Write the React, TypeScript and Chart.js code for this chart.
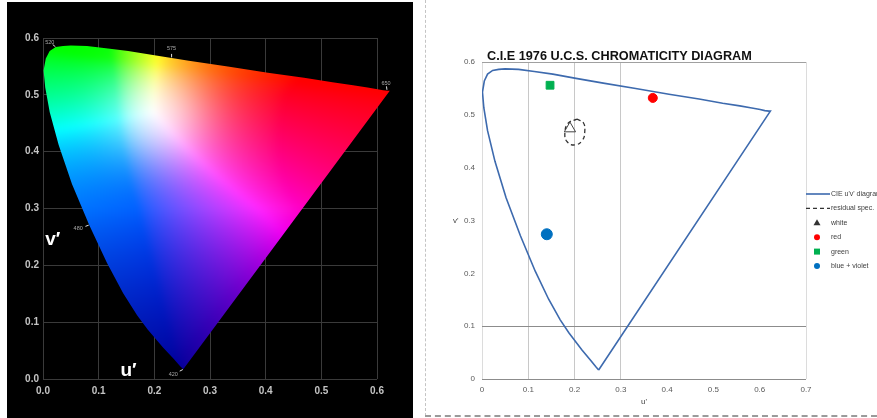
import React, { useEffect, useRef } from "react";
import { Chart, registerables } from "chart.js";

Chart.register(...registerables);

// CIE 1976 spectral locus (u', v'), 420 nm to 700 nm
const LOCUS_NM = [420, 430, 440, 450, 460, 465, 470, 475, 480, 485, 490, 495, 500, 505, 510, 515, 520, 525, 530, 540, 550, 560, 570, 580, 590, 600, 610, 620, 630, 640, 650, 660, 680, 700];
const LOCUS_U = [0.252, 0.246, 0.235, 0.216, 0.188, 0.169, 0.144, 0.115, 0.083, 0.052, 0.028, 0.012, 0.004, 0.001, 0.005, 0.012, 0.023, 0.036, 0.050, 0.079, 0.113, 0.153, 0.203, 0.262, 0.332, 0.404, 0.469, 0.520, 0.557, 0.583, 0.601, 0.611, 0.620, 0.623];
const LOCUS_V = [0.017, 0.023, 0.035, 0.055, 0.087, 0.112, 0.151, 0.204, 0.271, 0.343, 0.412, 0.470, 0.513, 0.543, 0.564, 0.577, 0.584, 0.586, 0.587, 0.586, 0.582, 0.577, 0.569, 0.560, 0.550, 0.539, 0.530, 0.522, 0.517, 0.513, 0.510, 0.508, 0.507, 0.507];

// wavelength call-outs on the coloured diagram
const MARK_NM = ["520", "575", "650", "480", "420"];
const MARK_U = [0.023, 0.231, 0.618, 0.083, 0.252];
const MARK_V = [0.584, 0.565, 0.508, 0.271, 0.017];

// white point used to lighten the centre of the colour field
const WHITE_POINT_U = 0.2;
const WHITE_POINT_V = 0.47;

// measured colour points
const WHITE_U = [0.19];
const WHITE_V = [0.474];
const RED_U = [0.369];
const RED_V = [0.532];
const GREEN_U = [0.147];
const GREEN_V = [0.556];
const BLUE_U = [0.14];
const BLUE_V = [0.274];

// tolerance contour round the white point
const CONTOUR_U = [0.205, 0.219, 0.222, 0.217, 0.201, 0.184, 0.179, 0.186, 0.205];
const CONTOUR_V = [0.492, 0.485, 0.468, 0.452, 0.443, 0.449, 0.465, 0.484, 0.492];

const SERIES_LABELS = ["CIE u'v' diagram", "residual spec.", "white", "red", "green", "blue + violet"];
const TITLE = "C.I.E 1976 U.C.S. CHROMATICITY DIAGRAM";

const pts = (us: number[], vs: number[]) => us.map((u, i) => ({ x: u, y: vs[i] }));
const closedLocus = () => [...pts(LOCUS_U, LOCUS_V), { x: LOCUS_U[0], y: LOCUS_V[0] }];

// XYZ -> RGB matrices: sRGB for the upper field, CIE RGB for the violet end
const M_SRGB = [
  [3.2406, -1.5372, -0.4986],
  [-0.9689, 1.8758, 0.0415],
  [0.0557, -0.204, 1.057],
];
const M_CIERGB = [
  [2.3646, -0.8965, -0.4681],
  [-0.5152, 1.4264, 0.0888],
  [0.0052, -0.0144, 1.0092],
];

function uvToRgb(u: number, v: number): [number, number, number] {
  const d = 6 * u - 16 * v + 12;
  const x = (9 * u) / d;
  const y = Math.max((4 * v) / d, 1e-4);
  const X = x / y;
  const Z = (1 - x - y) / y;
  const t = Math.min(1, Math.max(0, (v - 0.3) / 0.2));
  const lin = [0, 1, 2].map((k) => {
    const row = M_SRGB[k].map((s, j) => s * t + M_CIERGB[k][j] * (1 - t));
    return Math.max(0, row[0] * X + row[1] + row[2] * Z);
  });
  const m = Math.max(lin[0], lin[1], lin[2]) || 1;
  const shade = 0.58 + 0.42 * Math.min(1, v / 0.3);
  const dist = Math.hypot(u - WHITE_POINT_U, (v - WHITE_POINT_V) * 1.1);
  const wmix = 0.6 * Math.exp(-Math.pow(dist / 0.09, 2));
  const f = (c: number) => {
    const base = Math.pow(c / m, 1 / 1.4);
    return Math.round(255 * shade * (base * (1 - wmix) + wmix));
  };
  return [f(lin[0]), f(lin[1]), f(lin[2])];
}

const gamutPlugin = {
  id: "gamutFill",
  afterDatasetsDraw(chart: any) {
    const meta = chart.getDatasetMeta(0);
    const p = meta.data as any[];
    if (!p.length) return;
    const { ctx } = chart;
    const xs = chart.scales.x;
    const ys = chart.scales.y;
    const pad = 8;
    const minX = Math.floor(Math.min(...p.map((q) => q.x))) - pad;
    const maxX = Math.ceil(Math.max(...p.map((q) => q.x))) + pad;
    const minY = Math.floor(Math.min(...p.map((q) => q.y))) - pad;
    const maxY = Math.ceil(Math.max(...p.map((q) => q.y))) + pad;
    const w = maxX - minX + 1;
    const h = maxY - minY + 1;
    const field = document.createElement("canvas");
    field.width = w;
    field.height = h;
    const fctx = field.getContext("2d")!;
    const img = fctx.createImageData(w, h);
    for (let j = 0; j < h; j++) {
      const v = Math.max(ys.getValueForPixel(minY + j + 0.5), 0.004);
      for (let i = 0; i < w; i++) {
        const u = xs.getValueForPixel(minX + i + 0.5);
        const [r, g, b] = uvToRgb(u, v);
        const k = (j * w + i) * 4;
        img.data[k] = r;
        img.data[k + 1] = g;
        img.data[k + 2] = b;
        img.data[k + 3] = 255;
      }
    }
    fctx.putImageData(img, 0, 0);
    // soften the hue ridges of the colour field
    const smooth = document.createElement("canvas");
    smooth.width = w;
    smooth.height = h;
    const sctx = smooth.getContext("2d")!;
    sctx.filter = "blur(3px)";
    sctx.drawImage(field, 0, 0);
    ctx.save();
    ctx.beginPath();
    p.forEach((q, i) => (i ? ctx.lineTo(q.x, q.y) : ctx.moveTo(q.x, q.y)));
    ctx.closePath();
    ctx.clip();
    ctx.drawImage(smooth, minX, minY);
    ctx.restore();
  },
};

const MARK_OFFSET = [[-6, -5], [0, -9], [-1, -7], [-11, 4], [-10, 5]];

const wavelengthPlugin = {
  id: "wavelengths",
  afterDraw(chart: any) {
    const { ctx } = chart;
    const xs = chart.scales.x;
    const ys = chart.scales.y;
    ctx.save();
    ctx.font = '5.5px "Liberation Sans"';
    ctx.textAlign = "center";
    ctx.textBaseline = "middle";
    MARK_NM.forEach((t, i) => {
      const px = xs.getPixelForValue(MARK_U[i]);
      const py = ys.getPixelForValue(MARK_V[i]);
      const [dx, dy] = MARK_OFFSET[i];
      const len = Math.hypot(dx, dy);
      ctx.strokeStyle = "#e0e0e0";
      ctx.lineWidth = 1;
      ctx.beginPath();
      ctx.moveTo(px + (dx / len) * 0.5, py + (dy / len) * 0.5);
      ctx.lineTo(px + (dx / len) * 4, py + (dy / len) * 4);
      ctx.stroke();
      ctx.fillStyle = "#a8a8a8";
      ctx.fillText(t, px + dx, py + dy);
    });
    // axis letters
    ctx.fillStyle = "#ffffff";
    ctx.font = 'bold 19px "Liberation Sans"';
    ctx.textAlign = "left";
    ctx.textBaseline = "alphabetic";
    ctx.fillText("v\u2032", xs.getPixelForValue(0.004), ys.getPixelForValue(0.236));
    ctx.fillText("u\u2032", xs.getPixelForValue(0.139), ys.getPixelForValue(0.005));
    ctx.restore();
  },
};

function GamutChart() {
  const ref = useRef<HTMLCanvasElement>(null);
  useEffect(() => {
    const tickFont = { family: '"Liberation Sans"', size: 10, weight: "bold" as const };
    const chart = new Chart(ref.current!, {
      type: "scatter",
      data: {
        datasets: [
          {
            data: closedLocus(),
            showLine: true,
            borderWidth: 0,
            borderColor: "rgba(0,0,0,0)",
            pointRadius: 0,
            clip: false as any,
          },
        ],
      },
      options: {
        animation: false,
        responsive: false,
        events: [],
        layout: { padding: { top: 36, right: 36, left: 0, bottom: 0 } },
        plugins: { legend: { display: false }, tooltip: { enabled: false } },
        scales: {
          x: {
            type: "linear",
            min: 0,
            max: 0.6,
            afterFit: (s: any) => {
              s.height = 39;
            },
            ticks: { stepSize: 0.1, callback: (v: any) => Number(v).toFixed(1), font: tickFont, color: "#c4c4c4", padding: 6, maxRotation: 0 },
            grid: { color: "#3a3a3a", drawTicks: false },
            border: { display: false },
          },
          y: {
            type: "linear",
            min: 0,
            max: 0.6,
            afterFit: (s: any) => {
              s.width = 36;
            },
            ticks: { stepSize: 0.1, callback: (v: any) => Number(v).toFixed(1), font: tickFont, color: "#c4c4c4", padding: 4 },
            grid: { color: "#3a3a3a", drawTicks: false },
            border: { display: false },
          },
        },
      },
      plugins: [gamutPlugin, wavelengthPlugin],
    });
    return () => chart.destroy();
  }, []);
  return <canvas ref={ref} width={406} height={416} style={{ display: "block", width: 406, height: 416 }} />;
}

const titlePlugin = {
  id: "uvTitle",
  afterDraw(chart: any) {
    const { ctx, chartArea } = chart;
    const ys = chart.scales.y;
    ctx.save();
    ctx.fillStyle = "#111";
    ctx.font = 'bold 12.7px "Liberation Sans"';
    ctx.textAlign = "left";
    ctx.textBaseline = "alphabetic";
    ctx.fillText(TITLE, chartArea.left + 5, chartArea.top - 2.5);
    ctx.fillStyle = "#444";
    ctx.font = '8px "Liberation Sans"';
    ctx.textBaseline = "middle";
    ctx.fillText("v'", chartArea.left - 29, ys.getPixelForValue(0.3));
    ctx.restore();
  },
};

const legendPlugin = {
  id: "uvLegend",
  afterDraw(chart: any) {
    const { ctx, chartArea } = chart;
    const x0 = chartArea.right;
    ctx.save();
    ctx.font = '7px "Liberation Sans"';
    ctx.textBaseline = "middle";
    ctx.textAlign = "left";
    chart.data.datasets.forEach((ds: any, i: number) => {
      const y = 164 + i * 14.4;
      if (ds.showLine) {
        ctx.strokeStyle = ds.borderColor;
        ctx.lineWidth = ds.borderWidth;
        ctx.setLineDash(ds.borderDash || []);
        ctx.beginPath();
        ctx.moveTo(x0, y);
        ctx.lineTo(x0 + 24, y);
        ctx.stroke();
        ctx.setLineDash([]);
      } else {
        const cx = x0 + 11;
        ctx.fillStyle = ds.pointStyle === "triangle" ? "#333" : ds.backgroundColor;
        ctx.beginPath();
        if (ds.pointStyle === "triangle") {
          ctx.moveTo(cx, y - 3.5);
          ctx.lineTo(cx + 3.5, y + 2.5);
          ctx.lineTo(cx - 3.5, y + 2.5);
          ctx.closePath();
        } else if (ds.pointStyle === "rect") {
          ctx.rect(cx - 3, y - 3, 6, 6);
        } else {
          ctx.arc(cx, y, 3, 0, Math.PI * 2);
        }
        ctx.fill();
      }
      ctx.fillStyle = "#404040";
      ctx.fillText(ds.label, x0 + 25, y);
    });
    ctx.restore();
  },
};

function UcsChart() {
  const ref = useRef<HTMLCanvasElement>(null);
  useEffect(() => {
    const tickFont = { family: '"Liberation Sans"', size: 8 };
    const fmt = (v: any) => (Number(v) === 0 ? "0" : Number(v).toFixed(1));
    const chart = new Chart(ref.current!, {
      type: "scatter",
      data: {
        datasets: [
          { label: SERIES_LABELS[0], data: closedLocus(), showLine: true, borderColor: "#3d6aae", borderWidth: 1.6, pointRadius: 0, tension: 0 },
          { label: SERIES_LABELS[1], data: pts(CONTOUR_U, CONTOUR_V), showLine: true, borderColor: "#333333", borderWidth: 1.3, borderDash: [4, 3], pointRadius: 0, tension: 0.45 },
          { label: SERIES_LABELS[2], data: pts(WHITE_U, WHITE_V), pointStyle: "triangle", pointRadius: 6.5, borderColor: "#444444", borderWidth: 1, backgroundColor: "rgba(255,255,255,0)" },
          { label: SERIES_LABELS[3], data: pts(RED_U, RED_V), pointStyle: "circle", pointRadius: 4.5, borderColor: "#ff0000", borderWidth: 1, backgroundColor: "#ff0000" },
          { label: SERIES_LABELS[4], data: pts(GREEN_U, GREEN_V), pointStyle: "rect", pointRadius: 5.5, borderColor: "#00b050", borderWidth: 1, backgroundColor: "#00b050" },
          { label: SERIES_LABELS[5], data: pts(BLUE_U, BLUE_V), pointStyle: "circle", pointRadius: 5.5, borderColor: "#0070c0", borderWidth: 1, backgroundColor: "#0070c0" },
        ] as any,
      },
      options: {
        animation: false,
        responsive: false,
        events: [],
        layout: { padding: { top: 32, right: 71, left: 0, bottom: 0 } },
        plugins: { legend: { display: false }, tooltip: { enabled: false } },
        scales: {
          x: {
            type: "linear",
            min: 0,
            max: 0.7,
            afterFit: (s: any) => {
              s.height = 37;
            },
            ticks: { stepSize: 0.1, callback: fmt, font: tickFont, color: "#5a5a5a", padding: 6, maxRotation: 0 },
            title: { display: true, text: "u'", font: tickFont, color: "#444", padding: { top: 0, bottom: 9 } },
            grid: {
              drawTicks: false,
              color: (c: any) => {
                const k = Math.round((c.tick?.value ?? -1) * 10);
                if (k >= 1 && k <= 3) return "#c8c8c8";
                if (k === 0 || k === 7) return "#dcdcdc";
                return "rgba(0,0,0,0)";
              },
            },
            border: { display: false },
          },
          y: {
            type: "linear",
            min: 0,
            max: 0.6,
            afterFit: (s: any) => {
              s.width = 52;
            },
            ticks: { stepSize: 0.1, callback: fmt, font: tickFont, color: "#5a5a5a", padding: 7 },
            grid: {
              drawTicks: false,
              color: (c: any) => {
                const k = Math.round((c.tick?.value ?? -1) * 10);
                if (k === 0 || k === 1) return "#8c8c8c";
                if (k === 6) return "#a0a0a0";
                return "rgba(0,0,0,0)";
              },
            },
            border: { display: false },
          },
        },
      },
      plugins: [titlePlugin, legendPlugin],
    });
    return () => chart.destroy();
  }, []);
  return <canvas ref={ref} width={447} height={386} style={{ display: "block", width: 447, height: 386 }} />;
}

export default function App() {
  return (
    <div style={{ position: "absolute", left: 0, top: 0, width: 877, height: 418, background: "#fff", overflow: "hidden" }}>
      <div style={{ position: "absolute", left: 7, top: 2, width: 406, height: 416, background: "#000" }}>
        <GamutChart />
      </div>
      <div style={{ position: "absolute", left: 425, top: 0, width: 0, height: 416, borderLeft: "1px dashed #c4c4c4" }} />
      <div style={{ position: "absolute", left: 425, top: 415, width: 452, height: 0, borderTop: "2px dashed #9a9a9a" }} />
      <div style={{ position: "absolute", left: 430, top: 30, width: 447, height: 386 }}>
        <UcsChart />
      </div>
    </div>
  );
}
